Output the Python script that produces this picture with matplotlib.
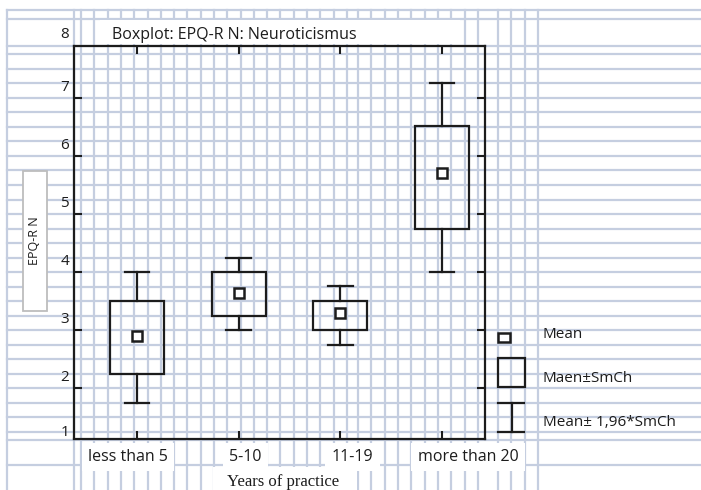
import matplotlib.pyplot as plt
from matplotlib.patches import Rectangle
from matplotlib import transforms
import numpy as np

plt.rcParams['font.family'] = ['Open Sans', 'DejaVu Sans']

# data
groups = ['less than 5', '5-10', '11-19', 'more than 20']
means = [2.90, 3.64, 3.30, 5.71]
se_lo = [2.25, 3.25, 3.00, 4.74]
se_hi = [3.50, 4.00, 3.50, 6.52]
ci_lo = [1.75, 3.00, 2.75, 4.00]
ci_hi = [4.00, 4.25, 3.76, 7.26]
y_labels = [1, 2, 3, 4, 5, 6, 7, 8]

title = 'Boxplot: EPQ-R N: Neuroticismus'
legend_labels = ['Mean', 'Maen\u00b1SmCh', 'Mean\u00b1 1,96*SmCh']

W, H = 701, 490
ink = '#1c1c1c'
grid_col = '#c5cee0'
fig = plt.figure(figsize=(W / 100, H / 100), dpi=100)

# background "squared paper" layer, in pixel coords
bg = fig.add_axes([0, 0, 1, 1], zorder=0)
bg.set_xlim(0, W)
bg.set_ylim(H, 0)
bg.set_axis_off()

unit = 58.0
hrows = [10, 19, 46] + list(98 + (7 - np.arange(7.75, 1.1, -0.25)) * unit) + [440, 465]
vcols = [7, 74] + list(np.arange(81, 350, 13.3)) + list(np.arange(358, 480, 13.33)) \
    + list(np.arange(498, 540, 13.33))
for y in hrows:
    bg.plot([7, W], [y, y], color=grid_col, lw=1.6, zorder=1)
for xv in vcols:
    bg.plot([xv, xv], [10, H], color=grid_col, lw=1.6, zorder=1)

# white patches behind title, axis title and y label
bg.add_patch(Rectangle((100, 20.5), 360, 24, fc='white', ec='none', zorder=2))
bg.add_patch(Rectangle((213, 466.5), 144, 24, fc='white', ec='none', zorder=2))
bg.add_patch(Rectangle((23, 171), 24, 140, fc='white', ec='#bdbdbd', lw=1.3, zorder=2))

bg.text(112, 39, title, fontsize=11.5, color=ink, va='baseline', ha='left', zorder=3)
bg.text(283, 486, 'Years of practice', family=['Liberation Serif', 'DejaVu Serif'],
        fontsize=12, color=ink, ha='center', va='baseline', zorder=3)
bg.text(35, 241, 'EPQ-R N', rotation=90, fontsize=9, color=ink,
        ha='center', va='center', zorder=3)

# main plot
ax = fig.add_axes([74 / W, 1 - 439 / H, (485 - 74) / W, (439 - 45.7) / H], zorder=1)
ax.patch.set_alpha(0)
x = np.arange(len(groups))
ax.set_xlim(-0.618, 3.42)
ax.set_ylim(1.121, 7.902)

bw = 0.53
cw = 0.24
for i in x:
    ax.add_patch(Rectangle((i - bw / 2, se_lo[i]), bw, se_hi[i] - se_lo[i],
                           fill=False, ec=ink, lw=1.6, zorder=3))
    ax.plot([i, i], [se_hi[i], ci_hi[i]], color=ink, lw=1.6, zorder=3)
    ax.plot([i, i], [se_lo[i], ci_lo[i]], color=ink, lw=1.6, zorder=3)
    ax.plot([i - cw / 2, i + cw / 2], [ci_hi[i], ci_hi[i]], color=ink, lw=1.6, zorder=3)
    ax.plot([i - cw / 2, i + cw / 2], [ci_lo[i], ci_lo[i]], color=ink, lw=1.6, zorder=3)
ax.plot(x, means, 's', ms=7, mfc='white', mec=ink, mew=1.8, zorder=4)

ax.set_xticks(x)
ax.set_yticks(range(2, 8))
ax.tick_params(direction='in', length=5.5, width=1.5, color=ink, top=True, right=True,
               labelleft=False, labelbottom=False)
for s in ax.spines.values():
    s.set_linewidth(1.6)
    s.set_color(ink)

# tick labels
ytr = transforms.blended_transform_factory(bg.transData, ax.transData) \
    + transforms.ScaledTranslation(0, 11 / 100, fig.dpi_scale_trans)
for v in y_labels:
    bg.text(69, np.clip(v, 1.05, 7.9), str(v), transform=ytr, fontsize=11, color=ink,
            ha='right', va='center', zorder=3)

label_dx = [-9, 7, 12, 26]
for i, g in enumerate(groups):
    tr = transforms.blended_transform_factory(ax.transData, bg.transData) \
        + transforms.ScaledTranslation(label_dx[i] / 100, 0, fig.dpi_scale_trans)
    ax.text(i, 461, g, transform=tr, fontsize=11.5, color=ink, ha='center', va='baseline',
            clip_on=False, zorder=5,
            bbox=dict(boxstyle='square,pad=0.4', fc='white', ec='none'))

# legend on the right
bg.add_patch(Rectangle((498, 333), 12, 9, fc='white', ec=ink, lw=1.8, zorder=3))
bg.add_patch(Rectangle((498, 358), 27, 29, fill=False, ec=ink, lw=1.6, zorder=3))
bg.plot([498, 524], [403, 403], color=ink, lw=1.6, zorder=3)
bg.plot([498, 524], [432, 432], color=ink, lw=1.6, zorder=3)
bg.plot([511.5, 511.5], [403, 432], color=ink, lw=1.6, zorder=3)
for yy, lab in zip([334, 378, 422], legend_labels):
    bg.text(543, yy, lab, fontsize=11, color=ink, ha='left', va='center', zorder=3)

fig.savefig('out.png', dpi=100, facecolor='white')
